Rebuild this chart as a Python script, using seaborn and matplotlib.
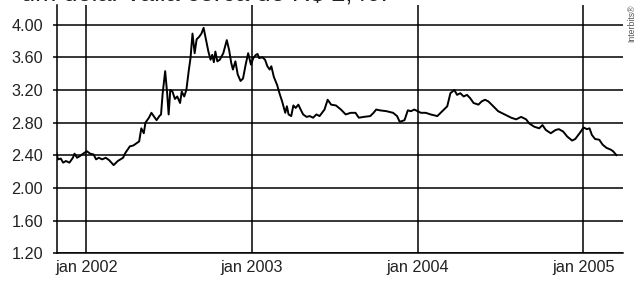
import numpy as np
import pandas as pd
import matplotlib
matplotlib.use("Agg")
import matplotlib.pyplot as plt
import seaborn as sns

# dollar rate (R$), time in decimal years
years = [
    2001.818, 2001.829, 2001.846, 2001.860, 2001.877, 2001.898, 2001.919, 2001.929,
    2001.944, 2001.961, 2001.981, 2002.003, 2002.023, 2002.044, 2002.059, 2002.075,
    2002.096, 2002.117, 2002.138, 2002.165, 2002.190, 2002.222, 2002.236, 2002.263,
    2002.284, 2002.305, 2002.319, 2002.332, 2002.347, 2002.357, 2002.378, 2002.393,
    2002.410, 2002.424, 2002.441, 2002.451, 2002.461, 2002.476, 2002.488, 2002.497,
    2002.507, 2002.520, 2002.535, 2002.549, 2002.566, 2002.576, 2002.591, 2002.604,
    2002.618, 2002.629, 2002.641, 2002.654, 2002.666, 2002.681, 2002.695, 2002.708,
    2002.723, 2002.737, 2002.750, 2002.760, 2002.770, 2002.779, 2002.791, 2002.806,
    2002.827, 2002.848, 2002.862, 2002.875, 2002.885, 2002.900, 2002.914, 2002.931,
    2002.946, 2002.962, 2002.977, 2002.994, 2003.008, 2003.024, 2003.034, 2003.043,
    2003.063, 2003.079, 2003.093, 2003.107, 2003.117, 2003.132, 2003.152, 2003.166,
    2003.182, 2003.201, 2003.211, 2003.221, 2003.237, 2003.250, 2003.264, 2003.280,
    2003.294, 2003.309, 2003.330, 2003.349, 2003.369, 2003.389, 2003.408, 2003.438,
    2003.457, 2003.478, 2003.507, 2003.537, 2003.566, 2003.596, 2003.625, 2003.645,
    2003.675, 2003.714, 2003.734, 2003.750, 2003.773, 2003.812, 2003.852, 2003.876,
    2003.892, 2003.921, 2003.941, 2003.960, 2003.980, 2004.000, 2004.020, 2004.049,
    2004.079, 2004.119, 2004.149, 2004.179, 2004.198, 2004.222, 2004.238, 2004.258,
    2004.278, 2004.298, 2004.317, 2004.338, 2004.367, 2004.387, 2004.407, 2004.427,
    2004.457, 2004.486, 2004.526, 2004.565, 2004.595, 2004.625, 2004.655, 2004.674,
    2004.704, 2004.734, 2004.754, 2004.774, 2004.804, 2004.833, 2004.853, 2004.879,
    2004.903, 2004.933, 2004.952, 2004.978, 2005.002, 2005.022, 2005.038, 2005.052,
    2005.071, 2005.097, 2005.117, 2005.141, 2005.165, 2005.180, 2005.201,
]
rates = [
    2.44, 2.35, 2.36, 2.31, 2.33, 2.31, 2.37, 2.42,
    2.37, 2.39, 2.42, 2.45, 2.42, 2.41, 2.35, 2.37,
    2.35, 2.37, 2.34, 2.28, 2.33, 2.37, 2.43, 2.51,
    2.52, 2.55, 2.57, 2.73, 2.67, 2.80, 2.86, 2.92,
    2.87, 2.83, 2.88, 2.90, 3.16, 3.43, 3.16, 2.90,
    3.20, 3.18, 3.09, 3.12, 3.04, 3.18, 3.12, 3.20,
    3.43, 3.59, 3.89, 3.65, 3.82, 3.85, 3.89, 3.96,
    3.81, 3.67, 3.57, 3.63, 3.54, 3.67, 3.55, 3.57,
    3.65, 3.81, 3.69, 3.53, 3.45, 3.55, 3.39, 3.31,
    3.34, 3.51, 3.65, 3.51, 3.59, 3.63, 3.64, 3.59,
    3.60, 3.57, 3.49, 3.45, 3.49, 3.36, 3.26, 3.16,
    3.06, 2.92, 3.00, 2.90, 2.88, 3.01, 2.98, 3.02,
    2.96, 2.90, 2.87, 2.88, 2.86, 2.90, 2.88, 2.96,
    3.08, 3.02, 3.01, 2.96, 2.90, 2.92, 2.92, 2.86,
    2.87, 2.88, 2.92, 2.96, 2.95, 2.94, 2.92, 2.88,
    2.81, 2.83, 2.95, 2.94, 2.96, 2.94, 2.92, 2.92,
    2.90, 2.88, 2.94, 3.00, 3.16, 3.20, 3.14, 3.16,
    3.12, 3.14, 3.10, 3.04, 3.02, 3.06, 3.08, 3.06,
    3.00, 2.94, 2.90, 2.86, 2.84, 2.87, 2.84, 2.79,
    2.75, 2.73, 2.77, 2.71, 2.67, 2.71, 2.72, 2.69,
    2.63, 2.58, 2.60, 2.67, 2.74, 2.72, 2.73, 2.65,
    2.60, 2.59, 2.53, 2.49, 2.47, 2.45, 2.40,
]

y_ticks = [1.20, 1.60, 2.00, 2.40, 2.80, 3.20, 3.60, 4.00]
x_ticks = [2002, 2003, 2004, 2005]
x_labels = ["jan 2002", "jan 2003", "jan 2004", "jan 2005"]

df = pd.DataFrame({"ano": years, "dolar": rates})

sns.set_style("white")
plt.rcParams["font.family"] = ["Liberation Sans", "DejaVu Sans"]

fig = plt.figure(figsize=(6.4, 2.82), dpi=100)
ax = fig.add_axes([57 / 640, 28.7 / 282, 566 / 640, 248.3 / 282])

sns.lineplot(data=df, x="ano", y="dolar", color="black", linewidth=1.4, ax=ax)

ax.set_xlim(2001.823, 2005.240)
ax.set_ylim(1.20, 4.24)
ax.set_xticks(x_ticks)
ax.set_xticklabels(x_labels)
ax.set_yticks(y_ticks)
ax.set_yticklabels([f"{v:.2f}" for v in y_ticks])
ax.set_xlabel("")
ax.set_ylabel("")

for v in y_ticks:
    ax.axhline(v, color="black", linewidth=1.1, zorder=1)
for t in x_ticks:
    ax.axvline(t, color="black", linewidth=1.1, zorder=1)

for side in ["top", "right"]:
    ax.spines[side].set_visible(False)
for side in ["left", "bottom"]:
    ax.spines[side].set_color("black")
    ax.spines[side].set_linewidth(1.1)

ax.tick_params(axis="y", length=3, width=1.1, color="black", pad=7,
               labelsize=11.7, labelcolor="#222222", left=True)
ax.tick_params(axis="x", length=0, pad=5, labelsize=11.7, labelcolor="#222222",
               bottom=True)

# title cut off at the top of the picture, as in the source
fig.text(21 / 640, 1 - 1.0 / 282, "um dólar valia cerca de R$ 2,40.",
         fontsize=18.3, color="#222222", ha="left", va="baseline")
fig.text(636 / 640, 1 - 5 / 282, "Interbits®", fontsize=6.2, color="#555555",
         rotation=90, ha="right", va="top")

fig.savefig("out.png", dpi=100)
